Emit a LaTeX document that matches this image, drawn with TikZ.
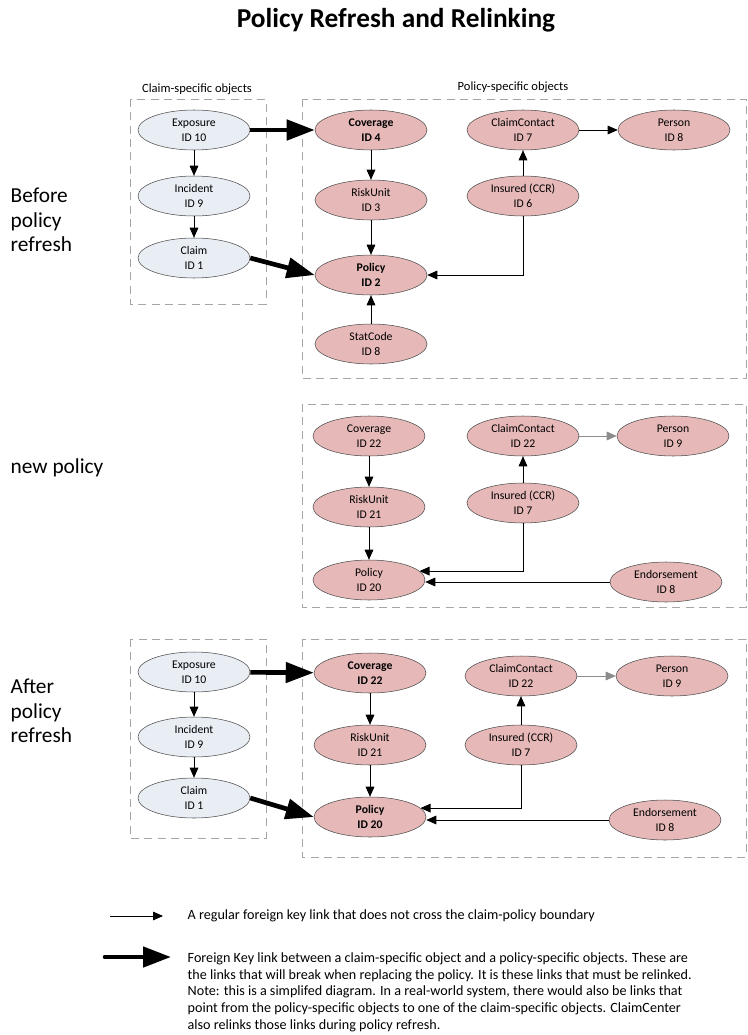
\documentclass[tikz,border=0pt]{standalone}
\usepackage{fontspec}
\setmainfont{Carlito}
\usepackage{xcolor}
\usetikzlibrary{arrows.meta, shapes.geometric, positioning, calc}

\definecolor{claimfill}{HTML}{E9EDF4}
\definecolor{policyfill}{HTML}{E6B9B8}
\definecolor{framegray}{HTML}{A6A6A6}

\begin{document}
\begin{tikzpicture}[x=0.75pt, y=-0.75pt,
    obj/.style={draw=black!70, ellipse, minimum width=84pt, minimum height=30pt, inner sep=0pt, align=center, font=\fontsize{8.8}{11.2}\selectfont},
    claimobj/.style={obj, fill=claimfill},
    polobj/.style={obj, fill=policyfill},
    frame/.style={draw=framegray, dash pattern=on 6pt off 4pt, line width=0.75pt},
    link/.style={-{Triangle[length=7.5pt, width=6.5pt]}, line width=0.6pt},
    relink/.style={-{Triangle[length=21pt, width=15pt]}, line width=3.5pt},
    grouplabel/.style={font=\fontsize{9.4}{11}\selectfont},
    phase/.style={anchor=west, align=left, font=\fontsize{16}{18.4}\selectfont},
    note/.style={anchor=west, align=left, font=\fontsize{10.6}{12.5}\selectfont}]

    \useasboundingbox (0,0) rectangle (748,1035);

    \node (title) [font=\fontsize{20.5}{24}\selectfont\bfseries] at (396,20) {Policy Refresh and Relinking};

    % Before policy refresh
    \node (lblBefore) [phase] at (6,220) {Before\\policy\\refresh};
    \node (lblClaim) [grouplabel] at (197,89) {Claim-specific objects};
    \node (lblPolicy) [grouplabel] at (513,87) {Policy-specific objects};
    \draw[frame] (130,99) rectangle (266,304);
    \draw[frame] (302,99) rectangle (746,378);

    \node (exp1) [claimobj] at (194,130) {Exposure\\ID 10};
    \node (inc1) [claimobj] at (194,196) {Incident\\ID 9};
    \node (clm1) [claimobj] at (194,258) {Claim\\ID 1};
    \node (cov1) [polobj] at (371,130) {\textbf{Coverage}\\\textbf{ID 4}};
    \node (ru1) [polobj] at (371,200) {RiskUnit\\ID 3};
    \node (pol1) [polobj] at (371,275) {\textbf{Policy}\\\textbf{ID 2}};
    \node (sc1) [polobj] at (371,344) {StatCode\\ID 8};
    \node (cc1) [polobj] at (523,130) {ClaimContact\\ID 7};
    \node (ins1) [polobj] at (523,196) {Insured (CCR)\\ID 6};
    \node (per1) [polobj] at (674,130) {Person\\ID 8};

    \draw[relink] (exp1) -- (cov1);
    \draw[relink] (clm1.east) -- (pol1.west);
    \draw[link] (exp1) -- (inc1);
    \draw[link] (inc1) -- (clm1);
    \draw[link] (cov1) -- (ru1);
    \draw[link] (ru1) -- (pol1);
    \draw[link] (sc1) -- (pol1);
    \draw[link] (ins1) -- (cc1);
    \draw[link] (cc1) -- (per1);
    \draw[link] (ins1.south) |- (pol1.east);

    % New policy
    \node (lblNew) [phase] at (6,468) {new policy};
    \draw[frame] (302,404) rectangle (746,607);

    \node (cov2) [polobj] at (369,436) {Coverage\\ID 22};
    \node (ru2) [polobj] at (369,507) {RiskUnit\\ID 21};
    \node (pol2) [polobj] at (369,580) {Policy\\ID 20};
    \node (cc2) [polobj] at (523,436) {ClaimContact\\ID 22};
    \node (ins2) [polobj] at (523,503) {Insured (CCR)\\ID 7};
    \node (per2) [polobj] at (673,436) {Person\\ID 9};
    \node (end2) [polobj] at (666,582) {Endorsement\\ID 8};

    \draw[link] (cov2) -- (ru2);
    \draw[link] (ru2) -- (pol2);
    \draw[link] (ins2) -- (cc2);
    \draw[link, draw=black!45] (cc2) -- (per2);
    \draw[link] (ins2.south) |- (pol2.10);
    \draw[link] (end2.west) -- (end2.west -| pol2.east);

    % After policy refresh
    \node (lblAfter) [phase] at (6,711) {After\\policy\\refresh};
    \draw[frame] (130,639) rectangle (266,838);
    \draw[frame] (302,639) rectangle (746,857);

    \node (exp3) [claimobj] at (194,672) {Exposure\\ID 10};
    \node (inc3) [claimobj] at (194,737) {Incident\\ID 9};
    \node (clm3) [claimobj] at (194,798) {Claim\\ID 1};
    \node (cov3) [polobj] at (370,673) {\textbf{Coverage}\\\textbf{ID 22}};
    \node (ru3) [polobj] at (370,745) {RiskUnit\\ID 21};
    \node (pol3) [polobj] at (370,817) {\textbf{Policy}\\\textbf{ID 20}};
    \node (cc3) [polobj] at (521,676) {ClaimContact\\ID 22};
    \node (ins3) [polobj] at (521,745) {Insured (CCR)\\ID 7};
    \node (per3) [polobj] at (672,676) {Person\\ID 9};
    \node (end3) [polobj] at (665,820) {Endorsement\\ID 8};

    \draw[relink] (exp3) -- (cov3);
    \draw[relink] (clm3.east) -- (pol3.west);
    \draw[link] (exp3) -- (inc3);
    \draw[link] (inc3) -- (clm3);
    \draw[link] (cov3) -- (ru3);
    \draw[link] (ru3) -- (pol3);
    \draw[link] (ins3) -- (cc3);
    \draw[link, draw=black!45] (cc3) -- (per3);
    \draw[link] (ins3.south) |- (pol3.10);
    \draw[link] (end3.west) -- (end3.west -| pol3.east);

    % Legend
    \coordinate (keyThinA) at (110,916);
    \coordinate (keyThinB) at (163,916);
    \coordinate (keyThickA) at (105,957);
    \coordinate (keyThickB) at (171,957);
    \draw[link] (keyThinA) -- (keyThinB);
    \draw[relink, line cap=round] (keyThickA) -- (keyThickB);
    \node (keyThin) [note] at (183,916) {A regular foreign key link that does not cross the claim-policy boundary};
    \node (keyThick) [note, anchor=north west] at (183,948) {Foreign Key link between a claim-specific object and a policy-specific objects. These are\\
        the links that will break when replacing the policy. It is these links that must be relinked.\\
        Note: this is a simplifed diagram. In a real-world system, there would also be links that\\
        point from the policy-specific objects to one of the claim-specific objects. ClaimCenter\\
        also relinks those links during policy refresh.};
\end{tikzpicture}
\end{document}
